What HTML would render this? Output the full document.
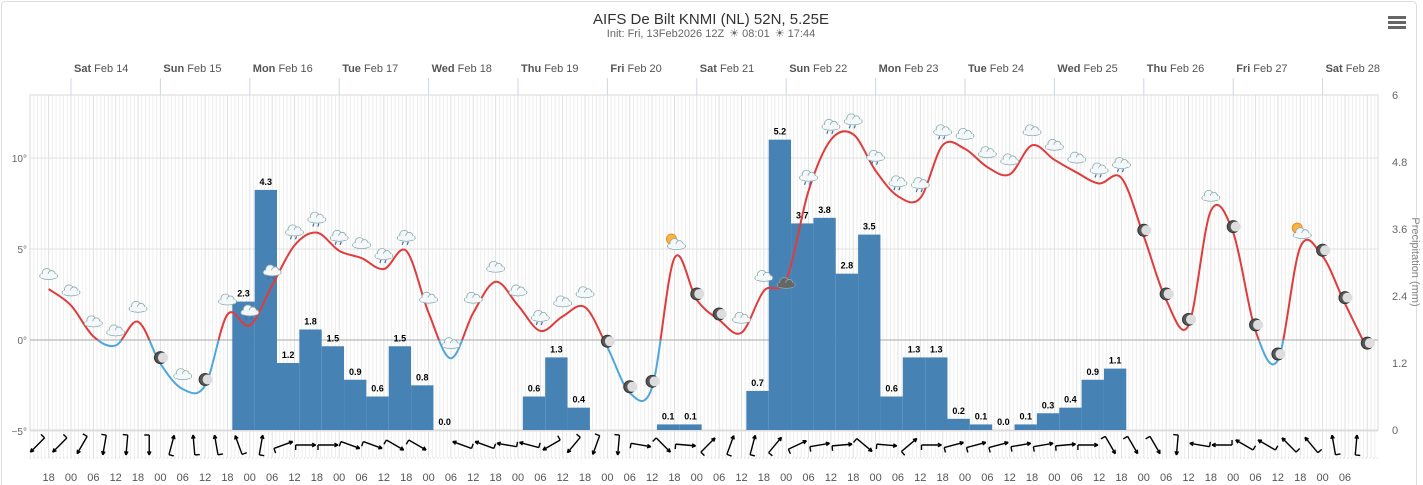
<!DOCTYPE html>
<html><head><meta charset="utf-8">
<style>
html,body{margin:0;padding:0;background:#fff;}
svg{display:block;font-family:"Liberation Sans","DejaVu Sans",sans-serif;}
</style></head>
<body>
<svg id="chart" width="1423" height="485" viewBox="0 0 1423 485" xmlns="http://www.w3.org/2000/svg">
<rect x="1.5" y="1.5" width="1415" height="490" rx="4" fill="#fff" stroke="#ddd"/>
<text x="711" y="24" text-anchor="middle" font-size="15" fill="#333">AIFS De Bilt KNMI (NL) 52N, 5.25E</text>
<text x="711" y="37" text-anchor="middle" font-size="11" fill="#666">Init: Fri, 13Feb2026 12Z <tspan dx="2">☀</tspan> 08:01 <tspan dx="2">☀</tspan> 17:44</text>
<g>
<rect x="1388" y="16" width="18" height="3" fill="#666"/><rect x="1388" y="21" width="18" height="3" fill="#666"/><rect x="1388" y="26" width="18" height="3" fill="#666"/>
</g>
<g id="grid"></g>
<g id="bars"></g>
<g id="line"></g>
<g id="icons"></g>
<g id="wind"></g>
<g id="axes"></g>
</svg>
<script>
// ---------- data ----------
const dayLabels = ["Sat","Sun","Mon","Tue","Wed","Thu","Fri","Sat","Sun","Mon","Tue","Wed","Thu","Fri","Sat"];
const dayDates = ["Feb 14","Feb 15","Feb 16","Feb 17","Feb 18","Feb 19","Feb 20","Feb 21","Feb 22","Feb 23","Feb 24","Feb 25","Feb 26","Feb 27","Feb 28"];
const tempStartHour = -6;
const temps = [2.8,1.9,0.2,-0.3,1.0,-1.3,-2.7,-2.5,1.4,0.8,3.0,5.2,5.9,4.9,4.5,3.9,4.9,1.5,-1.0,1.5,3.2,1.9,0.5,1.3,1.8,-0.4,-2.9,-2.6,4.5,2.2,1.1,0.4,2.7,3.3,8.2,11.0,11.3,9.3,7.9,7.8,10.7,10.5,9.5,9.1,10.7,9.9,9.2,8.6,8.9,5.7,2.2,0.8,7.1,5.9,0.5,-1.1,5.1,4.6,2.0,-0.5];
const iconTypes = ["c","c","c","c","c","m","c","m","c","r","r","r","r","r","c","r","r","c","c","c","c","c","r","c","c","m","m","m","s","m","m","c","c","t","r","r","r","r","r","r","r","c","c","c","c","c","c","r","r","m","m","m","c","m","m","m","s","m","m","m"];
const precipStartHour = 43.3;
const precip = [2.3,4.3,1.2,1.8,1.5,0.9,0.6,1.5,0.8,0.0,null,null,null,0.6,1.3,0.4,null,null,null,0.1,0.1,null,null,0.7,5.2,3.7,3.8,2.8,3.5,0.6,1.3,1.3,0.2,0.1,0.0,0.1,0.3,0.4,0.9,1.1];
const windStartHour = -9;
const windDir = [225,225,210,190,185,180,15,355,350,340,10,70,90,90,110,110,120,120,null,290,290,280,285,240,220,200,185,100,135,95,45,20,15,40,65,80,85,130,95,50,90,75,75,75,80,80,85,90,150,150,150,185,280,270,300,300,315,320,350,5];
const hourLabels = ["18","00","06","12"];
const tempTicks = [10,5,0,-5];
const precipTicks = ["0","1.2","2.4","3.6","4.8","6"];

// ---------- scales ----------
const X0 = 30, X1 = 1378, PT = 95, PB = 430;
const x = h => 71 + h * 89.4 / 24;
const yT = t => 340 - t * 18.2;
const yP = p => 430 - p * (335 / 6);
const NS = "http://www.w3.org/2000/svg";
function mk(tag, attrs, parent, txt) {
  const e = document.createElementNS(NS, tag);
  for (const k in attrs) e.setAttribute(k, attrs[k]);
  if (txt !== undefined) e.textContent = txt;
  parent.appendChild(e);
  return e;
}
const grid = document.getElementById("grid");
const axes = document.getElementById("axes");

for (let h = -11; h <= 352; h++) {
  const xx = x(h);
  if (xx < X0 || xx > X1) continue;
  const ln = mk("line", {x1: xx, x2: xx, y1: PT, y2: 458, stroke: h % 6 === 0 ? "#e0e0e0" : "#eeeeee", "stroke-width": 1}, grid);
  
  
}
const pb = mk("rect", {x: X0, y: PT, width: X1 - X0, height: PB - PT, fill: "none", stroke: "#d8d8d8"}, grid);


tempTicks.forEach(t => {
  const l = mk("line", {x1: X0, x2: X1, y1: yT(t), y2: yT(t), stroke: t === 0 ? "#aaa" : "#e0e0e0"}, grid);
  
  
  const tx = mk("text", {x: 27, y: yT(t) + 4, "text-anchor": "end", "font-size": 10, fill: "#666"}, axes, (t < 0 ? "\u2212" + (-t) : t) + "\u00b0");
  
  
});
precipTicks.forEach((p, i) => {
  const tx = mk("text", {x: 1392, y: yP(parseFloat(p)) + 4, "font-size": 11, fill: "#666"}, axes, p);
  
  
});
const rt = mk("text", {x: 1412, y: 262, "font-size": 11, fill: "#888", "text-anchor": "middle", transform: "rotate(90 1412 262)"}, axes, "Precipitation (mm)");



dayLabels.forEach((d, i) => {
  const xx = x(i * 24);
  const tk = mk("line", {x1: xx, x2: xx, y1: 78, y2: PT, stroke: "#ccd6eb"}, axes);
  
  
  const t = mk("text", {x: xx + 3, y: 72, "font-size": 11, fill: "#555"}, axes);
  
  
  mk("tspan", {"font-weight": "bold"}, t, d);
  mk("tspan", {}, t, " " + dayDates[i]);
});
for (let k = 0; ; k++) {
  const h = -6 + 6 * k;
  const xx = x(h);
  if (xx > 1355) break;
  const t = mk("text", {x: xx, y: 481, "text-anchor": "middle", "font-size": 11, fill: "#555"}, axes, hourLabels[k % 4]);
  
  
}
const bl = mk("line", {x1: X0, x2: X1, y1: 458, y2: 458, stroke: "#ccc", "stroke-dasharray": "1,2.7"}, axes);



const bars = document.getElementById("bars");
precip.forEach((p, i) => {
  if (p === null) return;
  const h0 = precipStartHour + i * 6;
  const xa = x(h0), xb = x(h0 + 6);
  const r = mk("rect", {x: xa, y: yP(p), width: xb - xa, height: PB - yP(p), fill: "#4682b4"}, bars);
  
  
  const t = mk("text", {x: (xa + xb) / 2, y: yP(p) - 5, "text-anchor": "middle", "font-size": 9, "font-weight": "bold", fill: "#000"}, bars, p.toFixed(1));
  
  
});

const pts = temps.map((t, i) => [x(tempStartHour + i * 6), yT(t)]);
let d = "M" + pts[0][0] + "," + pts[0][1];
for (let i = 0; i < pts.length - 1; i++) {
  const p0 = pts[Math.max(0, i - 1)], p1 = pts[i], p2 = pts[i + 1], p3 = pts[Math.min(pts.length - 1, i + 2)];
  const k = 1 / 6;
  d += " C" + (p1[0] + (p2[0] - p0[0]) * k) + "," + (p1[1] + (p2[1] - p0[1]) * k) + " " + (p2[0] - (p3[0] - p1[0]) * k) + "," + (p2[1] - (p3[1] - p1[1]) * k) + " " + p2[0] + "," + p2[1];
}
const lg = document.getElementById("line");
const defs = mk("defs", {}, lg);
const c1 = mk("clipPath", {id: "above"}, defs); mk("rect", {x: 0, y: 0, width: 1423, height: yT(0)}, c1);
const c2 = mk("clipPath", {id: "below"}, defs); mk("rect", {x: 0, y: yT(0), width: 1423, height: 200}, c2);
const lr = mk("path", {d: d, fill: "none", stroke: "#e03c3c", "stroke-width": 2, "clip-path": "url(#above)"}, lg);


const lb = mk("path", {d: d, fill: "none", stroke: "#4ea6db", "stroke-width": 2, "clip-path": "url(#below)"}, lg);



const icons = document.getElementById("icons");
function cloud(g, cx, cy, fill) {
  mk("ellipse", {cx: cx, cy: cy + 3, rx: 9, ry: 3.5, fill: fill, stroke: "#8aa", "stroke-width": 0.8}, g);
  mk("circle", {cx: cx - 2, cy: cy, r: 4.5, fill: fill, stroke: "#8aa", "stroke-width": 0.8}, g);
  mk("circle", {cx: cx + 3, cy: cy + 1, r: 3.5, fill: fill, stroke: "#8aa", "stroke-width": 0.8}, g);
  mk("rect", {x: cx - 8, y: cy + 1, width: 16, height: 4, fill: fill}, g);
}
iconTypes.forEach((tp, i) => {
  const cx = x(tempStartHour + i * 6), cy = yT(temps[i]) - 16;
  const g = mk("g", {}, icons);
  
  
  if (tp === "m") {
    mk("circle", {cx: cx, cy: cy + 10, r: 6, fill: "#555", stroke: "#333"}, g);
    mk("circle", {cx: cx + 2.5, cy: cy + 10, r: 5, fill: "#ddd"}, g);
  } else if (tp === "s") {
    mk("circle", {cx: cx - 3, cy: cy - 3, r: 5, fill: "#f5b642", stroke: "#f08a24"}, g);
    cloud(g, cx + 2, cy + 1, "#f4f8fb");
  } else if (tp === "t") {
    cloud(g, cx, cy + 18, "#666");
  } else {
    cloud(g, cx, cy, "#f4f8fb");
    if (tp === "r") {
      mk("line", {x1: cx - 3, y1: cy + 7, x2: cx - 4, y2: cy + 10, stroke: "#3a6ea5", "stroke-width": 1.2}, g);
      mk("line", {x1: cx + 2, y1: cy + 7, x2: cx + 1, y2: cy + 10, stroke: "#3a6ea5", "stroke-width": 1.2}, g);
    }
  }
});

const wind = document.getElementById("wind");
windDir.forEach((dir, i) => {
  if (dir === null) return;
  const cx = x(windStartHour + i * 6), cy = 445;
  const a = dir * Math.PI / 180;
  const dx = Math.sin(a) * 10, dy = -Math.cos(a) * 10;
  const g = mk("g", {stroke: "#000", "stroke-width": 1.4, fill: "none"}, wind);
  
  
  mk("line", {x1: cx - dx, y1: cy - dy, x2: cx + dx, y2: cy + dy}, g);
  const ha = a + Math.PI;
  [0.45, -0.45].forEach(o => {
    mk("line", {x1: cx + dx, y1: cy + dy, x2: cx + dx + Math.sin(ha + o) * 4, y2: cy + dy - Math.cos(ha + o) * 4}, g);
  });
  const fa = a + Math.PI / 2;
  mk("line", {x1: cx - dx, y1: cy - dy, x2: cx - dx + Math.sin(fa) * 5, y2: cy - dy - Math.cos(fa) * 5}, g);
});
</script>
</body></html>
